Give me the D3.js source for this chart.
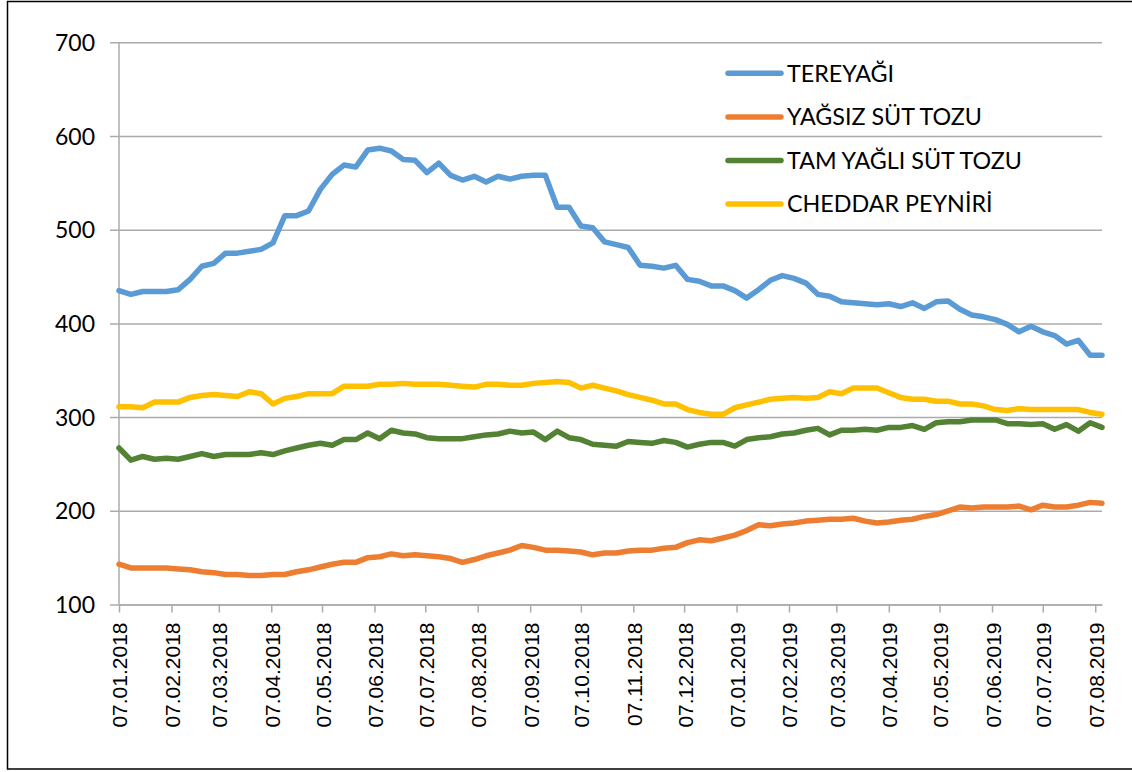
<!DOCTYPE html>
<html><head><meta charset="utf-8">
<script src="https://cdn.jsdelivr.net/npm/d3@7"></script>
<style>body{margin:0;background:#fff}svg{display:block}</style>
</head><body><svg id="c" width="1132" height="772"></svg>
<script>
const dates = [
"2018-01-07","2018-01-14","2018-01-21","2018-01-28","2018-02-04","2018-02-11","2018-02-18","2018-02-25",
"2018-03-04","2018-03-11","2018-03-18","2018-03-25","2018-04-01","2018-04-08","2018-04-15","2018-04-22","2018-04-29",
"2018-05-06","2018-05-13","2018-05-20","2018-05-27","2018-06-03","2018-06-10","2018-06-17","2018-06-24",
"2018-07-01","2018-07-08","2018-07-15","2018-07-22","2018-07-29","2018-08-05","2018-08-12","2018-08-19","2018-08-26",
"2018-09-02","2018-09-09","2018-09-16","2018-09-23","2018-09-30","2018-10-07","2018-10-14","2018-10-21","2018-10-28",
"2018-11-04","2018-11-11","2018-11-18","2018-11-25","2018-12-02","2018-12-09","2018-12-16","2018-12-23","2018-12-30",
"2019-01-06","2019-01-13","2019-01-20","2019-01-27","2019-02-03","2019-02-10","2019-02-17","2019-02-24",
"2019-03-03","2019-03-10","2019-03-17","2019-03-24","2019-03-31","2019-04-07","2019-04-14","2019-04-21","2019-04-28",
"2019-05-05","2019-05-12","2019-05-19","2019-05-26","2019-06-02","2019-06-09","2019-06-16","2019-06-23","2019-06-30",
"2019-07-07","2019-07-14","2019-07-21","2019-07-28","2019-08-04","2019-08-11"];

const tereyagi = [435,431,434,434,434,436,447,461,464,475,475,477,479,486,515,515,520,543,559,569,567,585,587,584,575,574,561,571,558,553,557,551,557,554,557,558,558,524,524,504,502,487,484,481,462,461,459,462,447,445,440,440,435,427,436,446,451,448,443,431,429,423,422,421,420,421,418,422,416,423,424,415,409,407,404,399,391,397,391,387,378,382,366,366];
const yagsiz = [143,139,139,139,139,138,137,135,134,132,132,131,131,132,132,135,137,140,143,145,145,150,151,154,152,153,152,151,149,145,148,152,155,158,163,161,158,158,157,156,153,155,155,157,158,158,160,161,166,169,168,171,174,179,185,184,186,187,189,190,191,191,192,189,187,188,190,191,194,196,200,204,203,204,204,204,205,201,206,204,204,206,209,208];
const tamYagli = [267,254,258,255,256,255,258,261,258,260,260,260,262,260,264,267,270,272,270,276,276,283,277,286,283,282,278,277,277,277,279,281,282,285,283,284,276,285,278,276,271,270,269,274,273,272,275,273,268,271,273,273,269,276,278,279,282,283,286,288,281,286,286,287,286,289,289,291,287,294,295,295,297,297,297,293,293,292,293,287,292,285,294,289];
const cheddar = [311,311,310,316,316,316,321,323,324,323,322,327,325,314,320,322,325,325,325,333,333,333,335,335,336,335,335,335,334,333,332,335,335,334,334,336,337,338,337,331,334,331,328,324,321,318,314,314,308,305,303,303,310,313,316,319,320,321,320,321,327,325,331,331,331,326,321,319,319,317,317,314,314,312,308,307,309,308,308,308,308,308,305,303];

const seriesNames = ["TEREYAĞI","YAĞSIZ SÜT TOZU","TAM YAĞLI SÜT TOZU","CHEDDAR PEYNİRİ"];
const seriesColors = ["#5B9BD5","#ED7D31","#548235","#FFC000"];
const yTicks = [100,200,300,400,500,600,700];
const xTickDates = ["2018-01-07","2018-02-07","2018-03-07","2018-04-07","2018-05-07","2018-06-07","2018-07-07","2018-08-07","2018-09-07","2018-10-07","2018-11-07","2018-12-07","2019-01-07","2019-02-07","2019-03-07","2019-04-07","2019-05-07","2019-06-07","2019-07-07","2019-08-07"];

const svg = d3.select("#c");
const parse = d3.utcParse("%Y-%m-%d");
const fmt = d3.utcFormat("%d.%m.%Y");
const X = dates.map(parse);
const L = 119, R = 1102, T = 42.3, B = 604.5;

const x = d3.scaleUtc().domain([X[0], X[X.length-1]]).range([L, R]);
const y = d3.scaleLinear().domain([100,700]).range([B, T]);

// outer border
svg.append("rect").attr("x",7.5).attr("y",1.5).attr("width",1140).attr("height",767.5)
  .attr("fill","none").attr("stroke","#000").attr("stroke-width",1.5);

// y gridlines + labels
const gy = svg.append("g").attr("transform",`translate(${L},0)`)
  .call(d3.axisLeft(y).tickValues(yTicks).tickSize(-(R-L)).tickSizeOuter(0).tickPadding(16));
gy.select(".domain").remove();
gy.selectAll(".tick line").attr("stroke","#ababab").attr("stroke-width",1.5).attr("x1",-9);
gy.selectAll(".tick text").attr("font-family","Lato, 'Open Sans', sans-serif").attr("font-size",23).attr("fill","#000").attr("dy","0.35em").attr("x",-24);

// x axis
const gx = svg.append("g").attr("transform",`translate(0,${B})`)
  .call(d3.axisBottom(x).tickValues(xTickDates.map(parse)).tickSize(8).tickSizeOuter(0).tickFormat(fmt));
gx.select(".domain").attr("stroke","#ababab").attr("stroke-width",1.5);
gx.selectAll(".tick line").attr("stroke","#ababab").attr("stroke-width",1.5);
gx.selectAll(".tick text").attr("font-family","'Liberation Sans', Arial, sans-serif").attr("font-size",21).attr("fill","#000")
  .attr("text-anchor","end").attr("transform","rotate(-90)").attr("x",-18).attr("y",0).attr("dy","0.38em").attr("dx",0);

// y axis line
svg.append("line").attr("x1",L).attr("x2",L).attr("y1",T).attr("y2",B).attr("stroke","#ababab").attr("stroke-width",1.5);

const allSeries = [tereyagi, yagsiz, tamYagli, cheddar];
const line = d3.line().x((d,i)=>x(X[i])).y(d=>y(d));
allSeries.forEach((s,i)=>{
  svg.append("path").datum(s).attr("d",line).attr("fill","none")
    .attr("stroke",seriesColors[i]).attr("stroke-width",5.5)
    .attr("stroke-linejoin","round").attr("stroke-linecap","round");
});

// legend
const legY = [73.3, 117, 160.5, 204];
const lg = svg.append("g");
seriesNames.forEach((n,i)=>{
  lg.append("line").attr("x1",728).attr("x2",781).attr("y1",legY[i]).attr("y2",legY[i])
    .attr("stroke",seriesColors[i]).attr("stroke-width",5.5).attr("stroke-linecap","round");
  lg.append("text").attr("x",787).attr("y",legY[i]).attr("dy","0.36em")
    .attr("font-family","Lato, 'Open Sans', sans-serif").attr("font-size",23.3).attr("fill","#000").text(n);
});
</script></body></html>
